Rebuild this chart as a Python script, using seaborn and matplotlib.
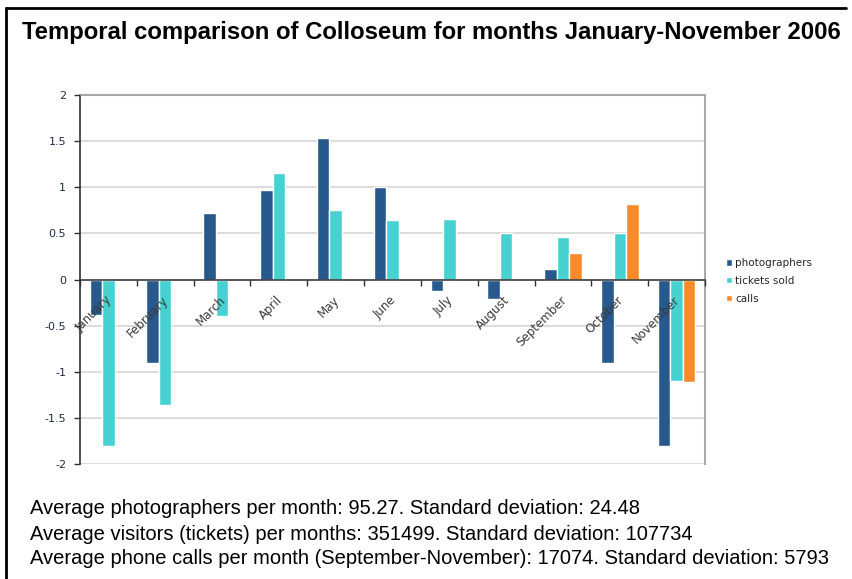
import numpy as np
import pandas as pd
import matplotlib
matplotlib.use("Agg")
import matplotlib.pyplot as plt
import matplotlib.transforms as mtransforms
from matplotlib.lines import Line2D
import seaborn as sns

months = ["January", "February", "March", "April", "May", "June", "July",
          "August", "September", "October", "November"]
photographers = [-0.38, -0.90, 0.72, 0.97, 1.535, 1.005, -0.13, -0.21, 0.11, -0.90, -1.80]
tickets_sold = [-1.80, -1.36, -0.40, 1.15, 0.75, 0.64, 0.66, 0.50, 0.46, 0.50, -1.10]
calls = [np.nan, np.nan, np.nan, np.nan, np.nan, np.nan, np.nan, np.nan, 0.285, 0.82, -1.11]
series_names = ["photographers", "tickets sold", "calls"]
series_colors = ["#27598C", "#47D1D1", "#F78B2A"]
yticks = [-2, -1.5, -1, -0.5, 0, 0.5, 1, 1.5, 2]
ytick_labels = ["-2", "-1.5", "-1", "-0.5", "0", "0.5", "1", "1.5", "2"]
title = "Temporal comparison of Colloseum for months January-November 2006"
notes = [
    "Average photographers per month: 95.27. Standard deviation: 24.48",
    "Average visitors (tickets) per months: 351499. Standard deviation: 107734",
    "Average phone calls per month (September-November): 17074. Standard deviation: 5793",
]

rows = []
for name, vals in zip(series_names, [photographers, tickets_sold, calls]):
    for m, v in zip(months, vals):
        rows.append({"month": m, "series": name, "value": v})
df = pd.DataFrame(rows)

sns.set_theme(style="white")
plt.rcParams["font.family"] = ["DejaVu Sans"]

fig = plt.figure(figsize=(8.53, 5.79), dpi=100)
ax = fig.add_axes([80 / 853, 1 - 464 / 579, 625 / 853, 369 / 579])

sns.barplot(data=df, x="month", y="value", hue="series", order=months,
            hue_order=series_names, palette=series_colors, width=0.66,
            saturation=1, ax=ax, legend=True, zorder=2)

ax.set_xlim(-0.5, len(months) - 0.5)
ax.set_ylim(-2, 2)
ax.set_yticks(yticks)
ax.set_yticklabels(ytick_labels, fontsize=8, color="#1F2A44")
ax.grid(False)
for yv in yticks:
    ax.axhline(yv, color="#D6D6D6", lw=1.2, zorder=0.5)
ax.set_axisbelow(False)
ax.set_xlabel("")
ax.set_ylabel("")

ax.spines["bottom"].set_position(("data", 0))
ax.spines["bottom"].set_color("#404040")
ax.spines["bottom"].set_linewidth(1.2)
ax.spines["left"].set_color("#303030")
ax.spines["left"].set_linewidth(1.2)
for s in ["top", "right"]:
    ax.spines[s].set_visible(True)
    ax.spines[s].set_color("#A8A8A8")
    ax.spines[s].set_linewidth(1.5)

ax.tick_params(axis="y", which="major", direction="out", length=4, width=1,
               color="#303030", left=True, pad=6)
ax.set_xticks(np.arange(len(months) + 1) - 0.5, minor=True)
ax.tick_params(axis="x", which="minor", direction="out", length=4, width=1,
               color="#303030", bottom=True)
ax.tick_params(axis="x", which="major", length=0, pad=10)
ax.set_xticks(range(len(months)))
ax.set_xticklabels(months, rotation=45, ha="right", va="top",
                   rotation_mode="anchor", fontsize=8.5, color="#3A3A3A")
offset = mtransforms.ScaledTranslation(-3 / 100, 0, fig.dpi_scale_trans)
for lab in ax.get_xticklabels():
    lab.set_transform(lab.get_transform() + offset)

leg = ax.legend(loc="upper left", bbox_to_anchor=(722 / 853, 1 - 254 / 579),
                bbox_transform=fig.transFigure, frameon=False, fontsize=7.5,
                handlelength=0.55, handleheight=0.55, handletextpad=0.3,
                labelspacing=0.75, borderaxespad=0)

fig.text(22 / 853, 1 - 33 / 579, title, fontsize=17.2, fontweight="bold",
         family="Liberation Sans", va="center", ha="left", color="black")
for i, line in enumerate(notes):
    fig.text(30 / 853, 1 - (509 + 25 * i) / 579, line, fontsize=14.5,
             family="Liberation Sans", va="center", ha="left", color="black")

fig.add_artist(Line2D([6 / 853, 6 / 853], [0, 1 - 8 / 579],
                      transform=fig.transFigure, color="black", lw=2))
fig.add_artist(Line2D([6 / 853, 846 / 853], [1 - 8 / 579, 1 - 8 / 579],
                      transform=fig.transFigure, color="black", lw=2))

fig.savefig("out.png", dpi=100)
